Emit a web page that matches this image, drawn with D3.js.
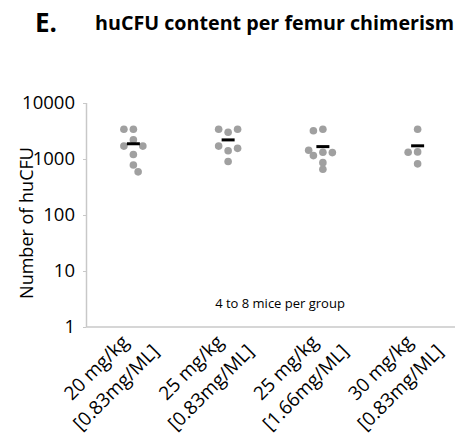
<!DOCTYPE html>
<html>
<head>
<meta charset="utf-8">
<script src="https://cdn.jsdelivr.net/npm/d3@7"></script>
<style>
  body { margin: 0; background: #fff; }
  text { font-family: "Open Sans", sans-serif; fill: #000; }
</style>
</head>
<body>
<div id="chart"></div>
<script>
// groups on the x axis (two text lines each)
var aGroupLine1 = ["20 mg/kg", "25 mg/kg", "25 mg/kg", "30 mg/kg"];
var aGroupLine2 = ["[0.83mg/ML]", "[0.83mg/ML]", "[1.66mg/ML]", "[0.83mg/ML]"];

// huCFU per mouse, one array per group
var aG1Values = [3400, 3400, 2200, 1700, 1700, 1200, 780, 590];
var aG2Values = [3400, 3000, 3400, 1700, 1550, 1400, 900];
var aG3Values = [3200, 3400, 1430, 1150, 1320, 1300, 860, 655];
var aG4Values = [3400, 1320, 1340, 820];

// scatter x jitter (in group units, as in the source worksheet)
var aG1Jitter = [-0.1, 0, 0, -0.1, 0.1, 0, 0, 0.05];
var aG2Jitter = [-0.1, 0, 0.1, -0.1, 0.1, 0, 0];
var aG3Jitter = [-0.1, 0, -0.15, -0.1, 0, 0.1, 0, 0];
var aG4Jitter = [0, -0.1, 0, 0];

var aYTicks = [1, 10, 100, 1000, 10000];

var WIDTH = 466, HEIGHT = 438;
var MARGIN = {top: 103, left: 86, right: 11, bottom: 111};

var svg = d3.select("#chart").append("svg")
  .attr("width", WIDTH).attr("height", HEIGHT);

var aValues = [aG1Values, aG2Values, aG3Values, aG4Values];
var aJitter = [aG1Jitter, aG2Jitter, aG3Jitter, aG4Jitter];

var aPoints = [];
aValues.forEach(function(aVals, i) {
  aVals.forEach(function(v, j) {
    aPoints.push({group: i, value: v, jitter: aJitter[i][j]});
  });
});

var x = d3.scaleBand()
  .domain(d3.range(aGroupLine1.length))
  .range([MARGIN.left, WIDTH - MARGIN.right + 10]);

var y = d3.scaleLog()
  .domain([1, 10000])
  .range([HEIGHT - MARGIN.bottom, MARGIN.top]);

function cx(g, j) { return x(g) + x.bandwidth() / 2 + j * x.bandwidth(); }

// title
svg.append("text").attr("x", 35).attr("y", 32)
  .style("font-weight", "bold").style("font-size", "26px").text("E.");
svg.append("text").attr("x", 95).attr("y", 30)
  .style("font-weight", "bold").style("font-size", "19.7px")
  .text("huCFU content per femur chimerism");

// y axis
var yAxis = svg.append("g")
  .attr("transform", "translate(" + MARGIN.left + ",0)")
  .call(d3.axisLeft(y).tickValues(aYTicks).tickFormat(d3.format("d"))
    .tickSize(3).tickPadding(8));
yAxis.select(".domain").attr("stroke", "#c8c8c8").attr("stroke-width", 1.5)
  .attr("d", "M0.5," + y(10000) + "V" + y(1));
yAxis.selectAll(".tick line").attr("stroke", "#c8c8c8");
yAxis.selectAll(".tick text").style("font-size", "18.5px").attr("fill", "#000")
  .attr("font-family", null);

// x axis line
svg.append("line")
  .attr("x1", MARGIN.left).attr("x2", WIDTH - MARGIN.right)
  .attr("y1", y(1)).attr("y2", y(1))
  .attr("stroke", "#c8c8c8").attr("stroke-width", 1.5);

// y axis title
svg.append("text")
  .attr("transform", "translate(33,223) rotate(-90)")
  .attr("text-anchor", "middle").style("font-size", "18px")
  .text("Number of huCFU");

// group labels
var labels = svg.selectAll(".xlab").data(aGroupLine1).enter().append("text")
  .attr("class", "xlab")
  .attr("text-anchor", "middle")
  .style("font-size", "19px")
  .attr("transform", function(d, i) {
    return "translate(" + (x(i) + x.bandwidth() / 2) + "," + y(1) + ") rotate(-45)";
  });
labels.append("tspan").attr("x", -55).attr("y", 9).text(function(d) { return d; });
labels.append("tspan").attr("x", -55).attr("y", 37).text(function(d, i) { return aGroupLine2[i]; });

// note
svg.append("text").attr("x", 280).attr("y", 308)
  .attr("text-anchor", "middle").style("font-size", "13px")
  .text("4 to 8 mice per group");

// dots
svg.selectAll(".dot").data(aPoints).enter().append("circle")
  .attr("class", "dot")
  .attr("cx", function(d) { return cx(d.group, d.jitter); })
  .attr("cy", function(d) { return y(d.value); })
  .attr("r", 3.8)
  .attr("fill", "#a0a0a0");

// means
svg.selectAll(".mean").data(aValues).enter().append("line")
  .attr("class", "mean")
  .attr("x1", function(d, i) { return cx(i, 0) - 6.5; })
  .attr("x2", function(d, i) { return cx(i, 0) + 6.5; })
  .attr("y1", function(d) { return y(d3.mean(d)); })
  .attr("y2", function(d) { return y(d3.mean(d)); })
  .attr("stroke", "#000").attr("stroke-width", 3);
</script>
</body>
</html>
